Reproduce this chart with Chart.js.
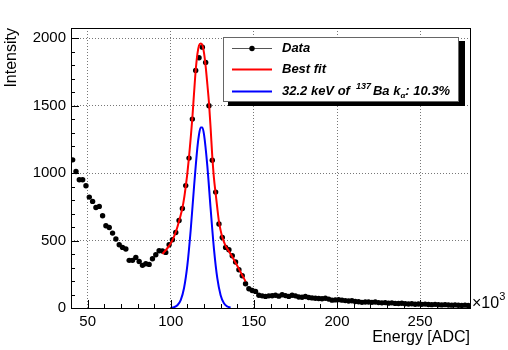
<!DOCTYPE html>
<html>
<head>
<meta charset="utf-8">
<title>Energy spectrum</title>
<script src="https://cdn.jsdelivr.net/npm/chart.js@4.4.0/dist/chart.umd.min.js"></script>
<style>
  html, body { margin: 0; padding: 0; background: #fff; }
  #wrap { width: 508px; height: 350px; }
</style>
</head>
<body>
<div id="wrap"><canvas id="spectrum" width="508" height="350"></canvas></div>
<script>
// ============================================
// Spectrum — data
// ============================================

// 1. Histogram (bin centres 41, 43, ... x10^3 ADC)
const binFirst = 41;
const binWidth = 2;
const intensity = [
  1098, 1012, 950, 950, 906, 822, 790, 745, 753, 684,
  610, 597, 555, 511, 469, 449, 437, 353, 353, 375,
  345, 316, 328, 323, 365, 395, 424, 422, 412, 469,
  506, 560, 648, 737, 907, 1111, 1400, 1760, 1854, 1933,
  1820, 1499, 1095, 859, 623, 523, 449, 432, 387, 341,
  284, 239, 180, 143, 130, 123, 95, 90, 86, 90,
  91, 95, 88, 98, 92, 86, 95, 90, 82, 80,
  85, 78, 75, 72, 70, 68, 72, 66, 58, 60,
  62, 58, 55, 52, 54, 48, 46, 42, 44, 45,
  42, 44, 40, 38, 40, 36, 38, 34, 33, 35,
  31, 30, 32, 28, 30, 27, 29, 26, 25, 27,
  24, 23, 25, 22, 21, 23, 20, 19, 21, 18
];

// 2. Best fit curve (red)
const fitX = [95, 97, 99, 100, 101, 102, 103, 104, 105, 106, 107, 108, 109, 110, 111, 112, 113, 114, 115, 116,
  117, 118, 119, 120, 121, 122, 123, 124, 125, 126, 127, 128, 129, 130, 131, 132, 133, 135, 137, 139, 141, 143, 145];
const fitY = [400, 428, 460, 480, 503, 530, 563, 600, 645, 690, 740, 810, 900, 1000, 1120, 1260, 1410, 1590, 1760, 1880,
  1945, 1960, 1950, 1890, 1790, 1660, 1520, 1330, 1120, 960, 850, 740, 640, 575, 525, 490, 460, 420, 380, 335, 290, 243, 197];

// 3. Ba k-alpha component (blue)
const kaX = [100, 102, 104, 106, 108, 110, 112, 114, 116, 117, 118, 119, 120, 122, 124, 126, 128, 130, 132, 134, 136];
const kaY = [1, 6, 20, 59, 148, 317, 578, 897, 1187, 1286, 1338, 1338, 1286, 1053, 734, 437, 221, 95, 35, 11, 3];

// 4. Axes
const xTicks = [50, 100, 150, 200, 250];
const yTicks = [0, 500, 1000, 1500, 2000];
const xMin = 40, xMax = 280;
const yMin = 0, yMax = 2075;

const FONT = "'Liberation Sans', Arial, Helvetica, sans-serif";

const histPoints = intensity.map((v, i) => ({ x: binFirst + i * binWidth, y: v }));
const fitPoints = fitX.map((x, i) => ({ x: x, y: fitY[i] }));
const kaPoints = kaX.map((x, i) => ({ x: x, y: kaY[i] }));

// ROOT-like frame, inward ticks, titles and legend
const rootStyle = {
  id: 'rootStyle',
  afterDatasetsDraw(chart) {
    const { ctx, chartArea: a, scales: { x, y } } = chart;
    ctx.save();
    ctx.strokeStyle = '#000';
    ctx.lineWidth = 1;
    ctx.beginPath();
    // x ticks every 10, major every 50
    for (let v = xMin + 10; v < xMax; v += 10) {
      const px = Math.round(x.getPixelForValue(v)) + 0.5;
      const len = v % 50 === 0 ? 8 : 4;
      ctx.moveTo(px, a.bottom);
      ctx.lineTo(px, a.bottom - len);
    }
    // y ticks every 100, major every 500
    for (let v = 100; v <= 2000; v += 100) {
      const py = Math.round(y.getPixelForValue(v)) + 0.5;
      const len = v % 500 === 0 ? 8 : 4;
      ctx.moveTo(a.left, py);
      ctx.lineTo(a.left + len, py);
    }
    ctx.stroke();
    ctx.strokeRect(Math.round(a.left) + 0.5, Math.round(a.top) + 0.5,
      Math.round(a.right - a.left), Math.round(a.bottom - a.top));
    ctx.restore();
  },
  afterDraw(chart) {
    const { ctx, chartArea: a } = chart;
    ctx.save();
    ctx.fillStyle = '#000';

    // axis titles
    ctx.font = '16px ' + FONT;
    ctx.textAlign = 'right';
    ctx.textBaseline = 'middle';
    ctx.fillText('Energy [ADC]', a.right, 338);
    ctx.save();
    ctx.translate(12, a.top);
    ctx.rotate(-Math.PI / 2);
    ctx.fillText('Intensity', 0, 0);
    ctx.restore();

    // exponent
    ctx.textAlign = 'left';
    ctx.fillText('\u00d710', a.right + 2, 304);
    let w = ctx.measureText('\u00d710').width;
    ctx.font = '11px ' + FONT;
    ctx.fillText('3', a.right + 2 + w, 297);

    // legend box with shadow strips (right and bottom)
    const bx = 223, by = 37, bw = 236, bh = 65;
    ctx.fillStyle = '#000000';
    ctx.fillRect(bx + bw, by + 4, 6, bh);
    ctx.fillRect(bx + 5, by + bh, bw + 1, 4);
    ctx.fillStyle = '#ffffff';
    ctx.fillRect(bx, by, bw, bh);
    ctx.strokeStyle = '#666';
    ctx.lineWidth = 1;
    ctx.strokeRect(bx + 0.5, by + 0.5, bw - 1, bh - 1);

    const rows = [48.5, 69.5, 91.5];
    const lx0 = 232, lx1 = 272, tx = 282;
    ctx.strokeStyle = '#555';
    ctx.lineWidth = 1;
    ctx.beginPath(); ctx.moveTo(lx0, rows[0]); ctx.lineTo(lx1, rows[0]); ctx.stroke();
    ctx.fillStyle = '#000';
    ctx.beginPath(); ctx.arc((lx0 + lx1) / 2, rows[0], 2.7, 0, Math.PI * 2); ctx.fill();
    ctx.lineWidth = 2;
    ctx.strokeStyle = '#ff0000';
    ctx.beginPath(); ctx.moveTo(lx0, rows[1]); ctx.lineTo(lx1, rows[1]); ctx.stroke();
    ctx.strokeStyle = '#0000ff';
    ctx.beginPath(); ctx.moveTo(lx0, rows[2]); ctx.lineTo(lx1, rows[2]); ctx.stroke();

    const bi = 'italic bold 13px ' + FONT;
    ctx.font = bi;
    ctx.textBaseline = 'middle';
    ctx.fillText('Data', tx, rows[0]);
    ctx.fillText('Best fit', tx, rows[1]);
    let cx = tx;
    ctx.fillText('32.2 keV of', cx, rows[2]);
    cx += ctx.measureText('32.2 keV of').width + 6;
    ctx.font = 'italic bold 9px ' + FONT;
    ctx.fillText('137', cx, rows[2] - 5);
    cx += ctx.measureText('137').width + 2;
    ctx.font = bi;
    ctx.fillText('Ba k', cx, rows[2]);
    cx += ctx.measureText('Ba k').width;
    ctx.font = 'italic bold 8px ' + FONT;
    ctx.fillText('\u03b1', cx, rows[2] + 4);
    cx += ctx.measureText('\u03b1').width;
    ctx.font = bi;
    ctx.fillText(': 10.3%', cx, rows[2]);
    ctx.restore();
  }
};

const chart = new Chart(document.getElementById('spectrum'), {
  type: 'scatter',
  data: {
    datasets: [
      {
        label: 'Best fit',
        data: fitPoints,
        showLine: true,
        borderColor: '#ff0000',
        borderWidth: 2,
        pointRadius: 0,
        cubicInterpolationMode: 'monotone',
        order: 1
      },
      {
        label: 'Ba k-alpha',
        data: kaPoints,
        showLine: true,
        borderColor: '#0000ff',
        borderWidth: 2,
        pointRadius: 0,
        cubicInterpolationMode: 'monotone',
        order: 2
      },
      {
        label: 'Data',
        data: histPoints,
        showLine: false,
        backgroundColor: '#000',
        borderColor: '#000',
        borderWidth: 0,
        pointRadius: 2.7,
        order: 3
      }
    ]
  },
  options: {
    responsive: false,
    animation: false,
    devicePixelRatio: 1,
    layout: { padding: { left: 0, top: 28, right: 38, bottom: 0 } },
    plugins: {
      legend: { display: false },
      tooltip: { enabled: false }
    },
    scales: {
      x: {
        type: 'linear',
        min: xMin,
        max: xMax,
        afterBuildTicks: (s) => { s.ticks = xTicks.map(v => ({ value: v })); },
        afterFit: (s) => { s.height = 42; },
        ticks: { color: '#000', padding: 5, font: { family: FONT, size: 15 }, callback: (v) => String(v) },
        grid: { color: '#777', lineWidth: 1, drawTicks: false },
        border: { display: false, dash: [1, 2] }
      },
      y: {
        type: 'linear',
        min: yMin,
        max: yMax,
        afterBuildTicks: (s) => { s.ticks = yTicks.map(v => ({ value: v })); },
        afterFit: (s) => { s.width = 71; },
        ticks: { color: '#000', padding: 5, font: { family: FONT, size: 15 }, callback: (v) => String(v) },
        grid: { color: '#777', lineWidth: 1, drawTicks: false },
        border: { display: false, dash: [1, 2] }
      }
    }
  },
  plugins: [rootStyle]
});
</script>
</body>
</html>
